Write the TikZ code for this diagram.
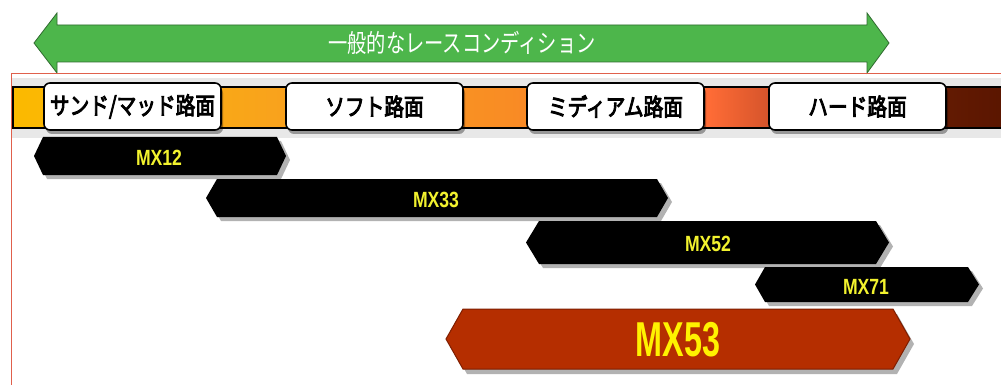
\documentclass[tikz,border=0pt]{standalone}
\usepackage{fontspec}
\usetikzlibrary{shadows}
\newfontfamily\jpb[FakeStretch=0.82,FakeBold=3.5]{Noto Sans CJK JP}
\newfontfamily\jpr[FakeStretch=0.77]{Noto Sans CJK JP}
\newfontfamily\mxf[FakeStretch=0.8]{Liberation Sans}
\newfontfamily\mxbig[FakeStretch=0.66]{Liberation Sans}
\definecolor{arrowgreen}{HTML}{4DB64B}
\definecolor{arrowedge}{HTML}{2F6B2F}
\definecolor{framered}{HTML}{E0604C}
\definecolor{barA}{HTML}{FBBA00}
\definecolor{barB}{HTML}{F9A31C}
\definecolor{barC}{HTML}{F98C24}
\definecolor{barD}{HTML}{FF6C36}
\definecolor{barE}{HTML}{D2522A}
\definecolor{barF}{HTML}{621A02}
\definecolor{barG}{HTML}{5A1500}
\definecolor{mxyellow}{HTML}{F2F22E}
\definecolor{mxred}{HTML}{B52E00}
\definecolor{mxrededge}{HTML}{7F1E00}
\pgfdeclarehorizontalshading{roadbar}{100bp}{color(0bp)=(barA); color(25bp)=(barA); color(38bp)=(barB); color(50bp)=(barC); color(60bp)=(barD); color(63.3bp)=(barE); color(72.2bp)=(barF); color(75bp)=(barG); color(100bp)=(barG)}
\tikzset{
  roadlabel/.style={draw=black, line width=1.6pt, fill=white, rounded corners=6pt,
    minimum width=177pt, minimum height=47pt, inner sep=0pt,
    font=\jpb\fontsize{24}{24}\selectfont,
    drop shadow={shadow xshift=2pt, shadow yshift=-4pt, fill=black, opacity=0.35}},
  mxbar/.style={fill=black,
    drop shadow={shadow xshift=4pt, shadow yshift=-4pt, fill=black, opacity=0.3}},
  mxredbar/.style={fill=mxred, draw=mxrededge, line width=1pt,
    drop shadow={shadow xshift=4pt, shadow yshift=-5pt, fill=black, opacity=0.3}},
  mxtext/.style={text=mxyellow, inner sep=0pt, font=\mxf\bfseries\fontsize{22}{22}\selectfont},
  mxbigtext/.style={text=yellow, inner sep=0pt, font=\mxbig\bfseries\fontsize{49}{49}\selectfont},
  titletext/.style={text=white, inner sep=0pt, font=\jpr\fontsize{25}{25}\selectfont}
}
\begin{document}
\begin{tikzpicture}[x=1pt,y=-1pt]
\useasboundingbox (0,0) rectangle (1001,385);
\fill[white] (0,0) rectangle (1001,385);
% green double arrow
\draw[fill=arrowgreen, draw=arrowedge, line width=0.8pt]
  (34,43) -- (57,13) -- (57,25) -- (867,25) -- (867,13) -- (889,43)
  -- (867,73) -- (867,62) -- (57,62) -- (57,73) -- cycle;
\node[titletext] (title) at (462,43) {一般的なレースコンディション};
% bar shadow
\fill[black!9] (12,78) rectangle (1003,138);
% frame
\draw[framered, line width=1pt] (1003,73.5) -- (11,73.5) -- (11,390);
% road bar
\shade[shading=roadbar, draw=black, line width=1.6pt] (13,87) rectangle (1006,128);
% road labels
\node[roadlabel] (sand) at (132.5,106.5) {サンド/マッド路面};
\node[roadlabel] (soft) at (374.5,106.5) {ソフト路面};
\node[roadlabel] (medium) at (615.5,106.5) {ミディアム路面};
\node[roadlabel] (hard) at (857.5,106.5) {ハード路面};
% MX bars
\path[mxbar] (34,156) -- (43,137) -- (277,137) -- (286,156) -- (277,175) -- (43,175) -- cycle;
\node[mxtext] (mx12) at (159,158) {MX12};
\path[mxbar] (206,198) -- (217,179) -- (657,179) -- (668,198) -- (657,217) -- (217,217) -- cycle;
\node[mxtext] (mx33) at (436,200) {MX33};
\path[mxbar] (526,242.5) -- (539,221) -- (876,221) -- (889,242.5) -- (876,264) -- (539,264) -- cycle;
\node[mxtext] (mx52) at (708,244) {MX52};
\path[mxbar] (755,284.5) -- (765,267) -- (968,267) -- (979,284.5) -- (968,302) -- (765,302) -- cycle;
\node[mxtext] (mx71) at (866,287) {MX71};
\path[mxredbar] (446,339) -- (463,309) -- (893,309) -- (910,339) -- (893,369) -- (463,369) -- cycle;
\node[mxbigtext] (mx53) at (678,340) {MX53};
\end{tikzpicture}
\end{document}
